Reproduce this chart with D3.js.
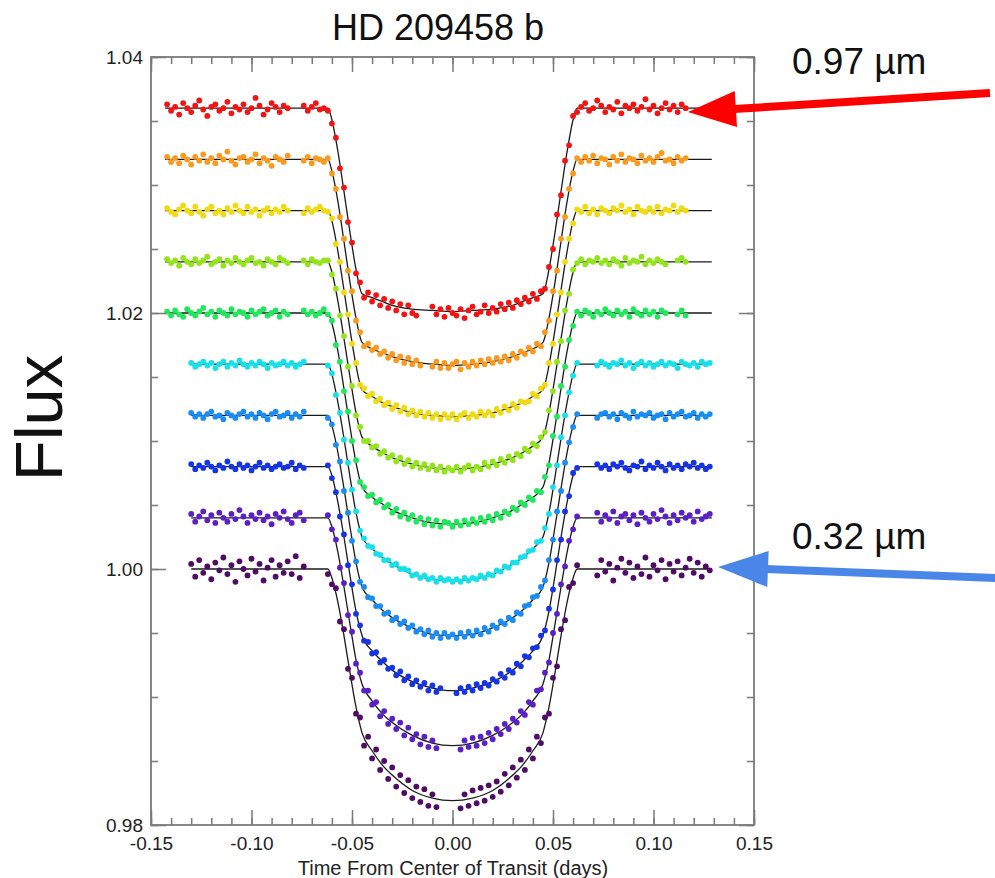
<!DOCTYPE html>
<html>
<head>
<meta charset="utf-8">
<script src="https://cdn.jsdelivr.net/npm/d3@7"></script>
<style>
  body { margin: 0; background: #fff; }
  svg { display: block; font-family: "Liberation Sans", Arial, sans-serif; }
</style>
</head>
<body>
<script>
// time from centre of transit (days), one grid shared by every channel
const times = [
  -0.142,-0.140,-0.138,-0.136,-0.134,-0.132,-0.130,-0.128,-0.126,-0.124,
  -0.122,-0.120,-0.118,-0.116,-0.114,-0.112,-0.110,-0.108,-0.106,-0.104,
  -0.102,-0.100,-0.098,-0.096,-0.094,-0.092,-0.090,-0.088,-0.086,-0.084,
  -0.082,-0.080,-0.078,-0.076,-0.074,-0.072,-0.070,-0.068,-0.066,-0.064,
  -0.062,-0.060,-0.058,-0.056,-0.054,-0.052,-0.050,-0.048,-0.046,-0.044,
  -0.042,-0.040,-0.038,-0.036,-0.034,-0.032,-0.030,-0.028,-0.026,-0.024,
  -0.022,-0.020,-0.018,-0.016,-0.014,-0.012,-0.010,-0.008,-0.006,-0.004,
  -0.002,0.000,0.002,0.004,0.006,0.008,0.010,0.012,0.014,0.016,
  0.018,0.020,0.022,0.024,0.026,0.028,0.030,0.032,0.034,0.036,
  0.038,0.040,0.042,0.044,0.046,0.048,0.050,0.052,0.054,0.056,
  0.058,0.060,0.062,0.064,0.066,0.068,0.070,0.072,0.074,0.076,
  0.078,0.080,0.082,0.084,0.086,0.088,0.090,0.092,0.094,0.096,
  0.098,0.100,0.102,0.104,0.106,0.108,0.110,0.112,0.114,0.116,
  0.118,0.120,0.122,0.124,0.126,0.128
];

// measured flux minus 1, in units of 1e-4 (channels are offset by 0.004 each); null = no exposure
const flux097 = [
  363,358,361,355,364,360,357,362,366,359,
  354,361,363,358,360,365,356,361,359,363,
  357,360,368,362,355,359,364,361,357,362,
  360,null,null,null,362,358,361,364,359,360,
  358,348,337,313,298,271,255,231,224,212,
  216,209,214,206,211,204,209,202,207,199,
  206,200,198,null,null,null,205,199,203,197,
  204,200,198,203,196,202,205,199,201,206,
  200,204,201,207,203,208,204,210,207,212,
  209,215,211,217,219,236,250,277,292,319,
  331,354,357,361,364,358,360,366,362,357,
  361,359,365,356,362,360,363,358,361,367,
  359,362,356,360,364,359,362,357,363,360,
  null,null,null,null,null,null
];
const flux090 = [
  322,318,321,317,323,320,316,322,319,324,
  318,321,317,323,320,326,319,316,321,322,
  318,320,324,317,321,319,315,322,320,318,
  323,null,null,null,319,322,317,321,320,318,
  321,309,297,275,258,233,217,194,185,174,
  176,171,173,168,170,165,168,163,166,161,
  165,160,163,159,null,null,158,162,157,161,
  157,160,162,156,161,158,162,159,163,160,
  164,161,165,162,166,163,168,165,170,168,
  173,170,176,174,185,194,217,233,258,275,
  297,309,321,318,322,319,323,317,321,320,
  316,322,319,324,318,321,320,317,323,319,
  321,318,322,325,319,320,317,322,319,321,
  null,null,null,null,null,null
];
const flux083 = [
  282,279,277,281,284,280,278,283,279,276,
  281,283,278,280,277,282,279,284,280,278,
  283,279,281,276,280,282,278,281,279,283,
  280,null,null,null,278,282,279,281,283,280,
  279,274,254,240,216,199,176,161,144,141,
  135,137,131,133,128,130,125,128,123,126,
  121,124,120,123,119,122,118,121,117,121,
  118,121,117,120,122,118,121,119,123,120,
  123,120,125,122,127,124,129,126,131,130,
  131,137,135,141,144,161,176,199,216,240,
  258,270,281,279,283,278,281,277,282,280,
  278,282,280,284,279,281,277,283,280,279,
  282,279,283,278,281,280,284,279,282,280,
  null,null,null,null,null,null
];
const flux076 = [
  242,239,241,237,243,240,238,242,239,241,
  244,238,240,242,237,241,239,243,240,238,
  241,243,239,240,237,242,240,238,243,241,
  239,null,null,null,241,238,242,240,239,241,
  241,230,219,198,182,158,143,120,111,100,
  100,95,96,90,92,87,89,84,87,82,
  85,80,83,79,82,78,81,77,80,76,
  79,77,80,76,79,81,77,80,78,83,
  80,84,81,86,83,88,85,90,88,94,
  92,98,96,103,107,124,139,162,178,202,
  215,234,239,242,238,241,240,243,239,241,
  238,242,240,237,243,239,241,240,244,238,
  241,239,242,240,238,null,null,241,243,240,
  null,null,null,null,null,null
];
const flux069 = [
  201,198,202,199,197,203,200,198,201,204,
  199,201,197,202,200,198,203,199,201,200,
  197,202,199,201,203,198,200,202,197,201,
  199,null,null,null,202,199,201,198,200,203,
  199,194,175,162,139,123,100,85,68,64,
  57,58,52,54,48,50,44,47,41,44,
  39,42,37,40,35,39,34,38,33,37,
  36,33,37,34,38,35,39,36,40,37,
  41,38,43,40,45,43,48,46,52,50,
  56,54,61,60,72,81,104,119,143,158,
  179,190,201,198,202,200,197,201,199,203,
  200,198,202,199,201,197,203,200,198,202,
  199,201,197,202,200,null,null,199,202,198,
  null,null,null,null,null,null
];
const flux060 = [
  null,null,null,null,null,null,161,158,160,162,
  159,161,157,160,162,158,161,159,163,160,
  158,161,159,162,160,157,161,159,160,162,
  159,161,158,160,162,null,null,null,null,null,
  159,153,136,122,101,83,62,45,30,24,
  18,17,12,11,7,7,3,4,0,0,
  -1,-5,-4,-7,-5,-8,-7,-10,-7,-9,
  -8,-10,-8,-10,-7,-9,-7,-8,-5,-7,
  -4,-5,-1,-2,2,1,5,5,9,10,
  14,15,21,22,32,43,64,81,103,120,
  138,151,161,null,null,null,null,159,162,160,
  158,161,160,163,159,161,157,160,162,159,
  161,158,160,162,159,161,160,157,162,160,
  159,161,158,162,160,161
];
const flux053 = [
  null,null,null,null,null,null,122,119,121,118,
  121,123,119,120,117,122,120,118,121,123,
  119,121,118,122,120,117,121,123,119,120,
  122,118,121,119,123,null,null,null,null,null,
  118,113,97,84,61,44,22,6,-10,-14,
  -22,-23,-29,-29,-35,-34,-40,-38,-43,-41,
  -46,-44,-49,-47,-51,-48,-53,-50,-54,-50,
  -53,-51,-54,-50,-53,-49,-52,-48,-51,-46,
  -49,-44,-46,-41,-43,-38,-40,-34,-35,-29,
  -28,-22,-21,-14,-9,7,23,45,61,83,
  99,111,121,null,null,null,null,118,121,122,
  119,121,117,122,120,118,123,119,121,120,
  122,118,120,121,117,122,119,121,123,119,
  120,122,118,121,119,121
];
const flux046 = [
  null,null,null,null,null,null,82,78,81,79,
  83,80,77,81,79,84,80,78,82,79,
  81,77,80,83,79,81,78,80,82,79,
  80,83,78,81,79,null,null,null,null,null,
  81,71,60,41,27,3,-12,-35,-44,-56,
  -57,-66,-65,-73,-71,-78,-77,-83,-80,-87,
  -84,-90,-87,-92,-89,-95,-91,-96,-93,null,
  null,null,-97,-93,-96,-92,-95,-90,-93,-89,
  -91,-86,-88,-82,-85,-79,-81,-74,-76,-68,
  -69,-62,-61,-52,-48,-31,-16,7,23,45,
  57,75,79,null,null,null,null,82,79,81,
  78,82,80,83,79,77,81,80,84,78,
  81,79,83,80,77,82,79,81,78,82,
  80,83,79,81,78,80
];
const flux039 = [
  null,null,null,null,null,null,43,37,41,45,
  38,42,36,44,40,37,43,39,46,41,
  36,42,39,44,38,41,35,43,40,45,
  39,36,42,44,38,null,null,null,null,null,
  42,31,23,1,-11,-36,-49,-74,-81,-95,
  -95,-106,-104,-115,-111,-121,-117,-125,-120,-130,
  -124,-133,-129,-137,-131,-139,-134,-140,null,null,
  null,null,null,-141,-134,-139,-132,-138,-131,-136,
  -128,-133,-125,-129,-121,-125,-117,-120,-111,-114,
  -104,-106,-95,-94,-81,-73,-50,-35,-12,2,
  22,31,41,null,null,null,null,44,37,42,
  39,45,36,41,43,38,42,35,44,40,
  37,43,39,46,41,36,42,38,44,40,
  42,37,45,39,41,43
];
const flux032 = [
  null,null,null,null,null,null,4,-6,7,-3,
  2,-8,5,-1,9,-4,3,-10,6,0,
  -5,8,-2,4,-9,1,7,-6,3,-3,
  6,-4,10,-7,2,null,null,null,null,null,
  -4,-12,-15,-41,-47,-78,-85,-113,-116,-138,
  -131,-148,-141,-157,-150,-164,-155,-170,-161,-175,
  -165,-179,-170,-182,-172,-185,-176,-186,null,null,
  null,null,null,-187,-176,-185,-173,-183,-171,-181,
  -169,-178,-166,-174,-160,-169,-155,-163,-149,-157,
  -141,-148,-131,-136,-116,-113,-85,-76,-47,-40,
  -14,-11,3,null,null,null,null,-5,7,-2,
  4,-9,1,8,-3,5,-7,2,-4,9,
  -6,3,-1,7,-8,4,-2,6,-5,1,
  8,-3,5,-6,2,-1
];

// fitted transit model, same units, sampled at these times
const modelTimesRed = [-0.143,-0.062,-0.060,-0.057,-0.054,-0.051,-0.048,-0.045,-0.040,-0.035,-0.030,-0.020,-0.010,
  0,0.010,0.020,0.030,0.035,0.040,0.045,0.048,0.051,0.054,0.057,0.060,0.062,0.129];
const modelTimesBlue = [-0.130,-0.062,-0.060,-0.057,-0.054,-0.051,-0.048,-0.045,-0.040,-0.035,-0.030,-0.020,-0.010,
  0,0.010,0.020,0.030,0.035,0.040,0.045,0.048,0.051,0.054,0.057,0.060,0.062,0.129];

const model097 = [360,360,351,326,295,263,234,215,212,209,206,203,202,201,202,203,206,209,212,215,234,263,295,326,351,360,360];
const model090 = [320,320,311,287,256,224,196,177,172,169,166,162,160,159,160,162,166,169,172,177,196,224,256,287,311,320,320];
const model083 = [280,280,272,248,218,187,159,140,135,130,127,122,120,119,120,122,127,130,135,140,159,187,218,248,272,280,280];
const model076 = [240,240,232,209,180,150,122,103,96,91,87,82,79,78,79,82,87,91,96,103,122,150,180,209,232,240,240];
const model069 = [200,200,192,170,141,111,83,64,56,51,46,40,36,35,36,40,46,51,56,64,83,111,141,170,192,200,200];
const model060 = [160,160,152,130,102,72,44,25,16,9,4,-4,-8,-9,-8,-4,4,9,16,25,44,72,102,130,152,160,160];
const model053 = [120,120,112,91,63,33,5,-14,-24,-32,-38,-46,-51,-52,-51,-46,-38,-32,-24,-14,5,33,63,91,112,120,120];
const model046 = [80,80,73,52,25,-5,-33,-52,-64,-72,-79,-88,-93,-95,-93,-88,-79,-72,-64,-52,-33,-5,25,52,73,80,80];
const model039 = [40,40,33,13,-14,-43,-71,-90,-103,-113,-120,-130,-136,-138,-136,-130,-120,-113,-103,-90,-71,-43,-14,13,33,40,40];
const model032 = [0,0,-7,-26,-52,-81,-108,-128,-142,-153,-161,-173,-179,-181,-179,-173,-161,-153,-142,-128,-108,-81,-52,-26,-7,0,0];

const xTicks = [-0.15, -0.10, -0.05, 0.00, 0.05, 0.10, 0.15];
const yTicks = [0.98, 1.00, 1.02, 1.04];

const channelColors = ["#f01414", "#f99a1e", "#f0da12", "#94e41c", "#22e65c",
                       "#18dfe8", "#1a8cf2", "#1634e4", "#5a20c6", "#4e0c64"];

const channels = [
  {flux: flux097, model: model097, mt: modelTimesRed},
  {flux: flux090, model: model090, mt: modelTimesRed},
  {flux: flux083, model: model083, mt: modelTimesRed},
  {flux: flux076, model: model076, mt: modelTimesRed},
  {flux: flux069, model: model069, mt: modelTimesRed},
  {flux: flux060, model: model060, mt: modelTimesBlue},
  {flux: flux053, model: model053, mt: modelTimesBlue},
  {flux: flux046, model: model046, mt: modelTimesBlue},
  {flux: flux039, model: model039, mt: modelTimesBlue},
  {flux: flux032, model: model032, mt: modelTimesBlue}
];

const W = 995, H = 878;
const axisColor = "#7a7a7a";
const toFlux = v => 1 + v / 10000;

const svg = d3.select("body").append("svg").attr("width", W).attr("height", H);
svg.append("rect").attr("width", W).attr("height", H).attr("fill", "#fff");

const x = d3.scaleLinear().domain([-0.15, 0.15]).range([151, 754]);
const y = d3.scaleLinear().domain([0.98, 1.04]).range([825, 57]);

// model curves first, the points sit on top of them
const line = d3.line()
  .x(d => x(d[0]))
  .y(d => y(toFlux(d[1])))
  .curve(d3.curveMonotoneX);

channels.forEach(c => {
  svg.append("path")
    .datum(c.mt.map((t, i) => [t, c.model[i]]))
    .attr("d", line)
    .attr("fill", "none")
    .attr("stroke", "#1a1a1a")
    .attr("stroke-width", 1.3);
});

channels.forEach((c, ci) => {
  const pts = times.map((t, i) => ({t: t, v: c.flux[i]})).filter(d => d.v != null);
  svg.append("g")
    .attr("fill", channelColors[ci])
    .selectAll("circle")
    .data(pts)
    .join("circle")
    .attr("cx", d => x(d.t))
    .attr("cy", d => y(toFlux(d.v)))
    .attr("r", 2.9);
});

// frame + ticks (inward, on all four sides)
const xMinor = d3.range(-0.15, 0.1501, 0.01);
const yMinor = d3.range(0.98, 1.0401, 0.005);
const fmt = d => d.toFixed(2);

function styleAxis(g) {
  g.select(".domain").remove();
  g.selectAll(".tick line").attr("stroke", axisColor).attr("stroke-width", 1.5);
  g.selectAll(".tick text").attr("fill", "#222").attr("font-size", 19)
    .attr("font-family", "Liberation Sans, Arial, sans-serif");
}

svg.append("g").attr("transform", `translate(0,${y(0.98)})`)
  .call(d3.axisBottom(x).tickValues(xMinor).tickSize(-7).tickFormat(""))
  .call(styleAxis);
svg.append("g").attr("transform", `translate(0,${y(0.98)})`)
  .call(d3.axisBottom(x).tickValues(xTicks).tickSize(-15).tickPadding(12).tickFormat(fmt))
  .call(styleAxis);
svg.append("g").attr("transform", `translate(0,${y(1.04)})`)
  .call(d3.axisTop(x).tickValues(xMinor).tickSize(-7).tickFormat(""))
  .call(styleAxis);
svg.append("g").attr("transform", `translate(0,${y(1.04)})`)
  .call(d3.axisTop(x).tickValues(xTicks).tickSize(-15).tickFormat(""))
  .call(styleAxis);

svg.append("g").attr("transform", `translate(${x(-0.15)},0)`)
  .call(d3.axisLeft(y).tickValues(yMinor).tickSize(-7).tickFormat(""))
  .call(styleAxis);
svg.append("g").attr("transform", `translate(${x(-0.15)},0)`)
  .call(d3.axisLeft(y).tickValues(yTicks).tickSize(-15).tickPadding(8).tickFormat(fmt))
  .call(styleAxis);
svg.append("g").attr("transform", `translate(${x(0.15)},0)`)
  .call(d3.axisRight(y).tickValues(yMinor).tickSize(-7).tickFormat(""))
  .call(styleAxis);
svg.append("g").attr("transform", `translate(${x(0.15)},0)`)
  .call(d3.axisRight(y).tickValues(yTicks).tickSize(-15).tickFormat(""))
  .call(styleAxis);

svg.append("rect")
  .attr("x", x(-0.15)).attr("y", y(1.04))
  .attr("width", x(0.15) - x(-0.15)).attr("height", y(0.98) - y(1.04))
  .attr("fill", "none").attr("stroke", axisColor).attr("stroke-width", 1.8);

// titles
svg.append("text").attr("x", 438).attr("y", 40).attr("text-anchor", "middle")
  .attr("font-size", 36).attr("fill", "#111").text("HD 209458 b");
svg.append("text").attr("x", 453).attr("y", 875).attr("text-anchor", "middle")
  .attr("font-size", 20).attr("fill", "#222").text("Time From Center of Transit (days)");
svg.append("text").attr("transform", "translate(62,418) rotate(-90)").attr("text-anchor", "middle")
  .attr("font-size", 67).attr("fill", "#111").text("Flux");

// wavelength call-outs
svg.append("text").attr("x", 792).attr("y", 74).attr("font-size", 37).attr("fill", "#111").text("0.97 µm");
svg.append("text").attr("x", 792).attr("y", 549).attr("font-size", 37).attr("fill", "#111").text("0.32 µm");

function arrow(x1, y1, x2, y2, color, headLen, headHalf) {
  const dx = x2 - x1, dy = y2 - y1, len = Math.hypot(dx, dy);
  const ux = dx / len, uy = dy / len;
  const bx = x2 - ux * headLen, by = y2 - uy * headLen;
  svg.append("line").attr("x1", x1).attr("y1", y1).attr("x2", bx + ux * 2).attr("y2", by + uy * 2)
    .attr("stroke", color).attr("stroke-width", 8);
  svg.append("path")
    .attr("d", `M${x2},${y2}L${bx - uy * headHalf},${by + ux * headHalf}L${bx + uy * headHalf},${by - ux * headHalf}Z`)
    .attr("fill", color);
}
arrow(990, 93, 688, 112, "#ff0000", 48, 18);
arrow(998, 578, 718, 567, "#4a86e8", 50, 18);
</script>
</body>
</html>
